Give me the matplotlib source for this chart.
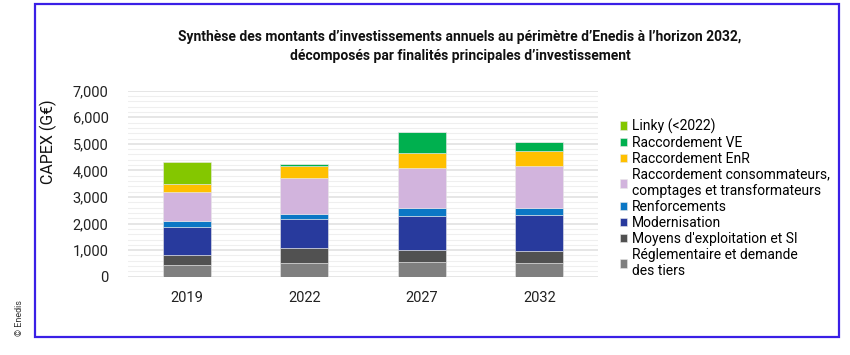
import matplotlib
matplotlib.use("Agg")
import matplotlib.pyplot as plt
import matplotlib.patches as mpatches
import numpy as np

years = ["2019", "2022", "2027", "2032"]
series_names = [
    "Réglementaire et demande\ndes tiers",
    "Moyens d'exploitation et SI",
    "Modernisation",
    "Renforcements",
    "Raccordement consommateurs,\ncomptages et transformateurs",
    "Raccordement EnR",
    "Raccordement VE",
    "Linky (<2022)",
]
reglementaire = [440, 516, 553, 516]
moyens = [377, 553, 452, 440]
modernisation = [1042, 1091, 1268, 1355]
renforcements = [249, 200, 324, 286]
consommateurs = [1091, 1343, 1505, 1580]
enr = [278, 452, 542, 554]
ve = [0, 86, 801, 350]
linky = [851, 0, 0, 0]
colors = ["#7F7F7F", "#515151", "#283A9D", "#0B77C5", "#D2B4DD", "#FFC000", "#00B04F", "#84C700"]

plt.rcParams['font.family'] = ['Roboto', 'DejaVu Sans']

fig = plt.figure(figsize=(8.5, 3.55), dpi=100)
ax = fig.add_axes([128/850, 1-276.7/355, 470/850, 186/355])

data = [reglementaire, moyens, modernisation, renforcements, consommateurs, enr, ve, linky]
x = np.arange(len(years))
bottom = np.zeros(len(years))
handles = []
for vals, c, name in zip(data, colors, series_names):
    v = np.array(vals, dtype=float)
    b = ax.bar(x, v, 0.41, bottom=bottom, color=c, edgecolor="#E8E8E8", linewidth=0.4, label=name, zorder=3)
    handles.append(b)
    bottom += v

ax.set_xlim(-0.5, len(years) - 0.5)
ax.set_ylim(0, 7000)
ax.set_yticks(np.arange(0, 7001, 1000))
ax.set_yticklabels([f"{v:,}" for v in range(0, 7001, 1000)], fontsize=10.5, color="#222222")
ax.set_yticks(np.arange(0, 7001, 200), minor=True)
ax.set_xticks(x)
ax.set_xticklabels(years, fontsize=10.5, color="#222222")
ax.tick_params(axis="both", which="both", length=0)
ax.tick_params(axis="y", pad=14)
ax.tick_params(axis="x", pad=10)
ax.grid(axis="y", which="major", color="#E2E2E2", linewidth=1.2, zorder=0)
ax.grid(axis="y", which="minor", color="#EFEFEF", linewidth=0.8, zorder=0)
for s in ax.spines.values():
    s.set_visible(False)
ax.set_ylabel("CAPEX (G€)", fontsize=11.5, color="#111111")
ax.yaxis.set_label_coords((57-128)/470, (276.7-142)/186)

leg = fig.legend(handles[::-1], series_names[::-1], loc="upper left",
                 bbox_to_anchor=(614/850, 1-113/355), frameon=False,
                 fontsize=10, handlelength=0.55, handleheight=0.55,
                 handletextpad=0.35, labelspacing=0.14, borderaxespad=0)

fig.text(460/850, 1-37/355, "Synthèse des montants d’investissements annuels au périmètre d’Enedis à l’horizon 2032,",
         ha="center", va="center", fontsize=10, fontweight="bold", color="#111111")
fig.text(460/850, 1-56/355, "décomposés par finalités principales d’investissement",
         ha="center", va="center", fontsize=10, fontweight="bold", color="#111111")

fig.text(19/850, 1-318/355, "© Enedis", rotation=90, ha="center", va="center", fontsize=6.5, color="#333333")

rect = mpatches.Rectangle((35/850, 1-336.7/355), (839-35)/850, (336.7-4)/355,
                          transform=fig.transFigure, fill=False, edgecolor="#3A1FE6", linewidth=1.6)
fig.add_artist(rect)

fig.savefig("out.png", dpi=100, facecolor="white")
